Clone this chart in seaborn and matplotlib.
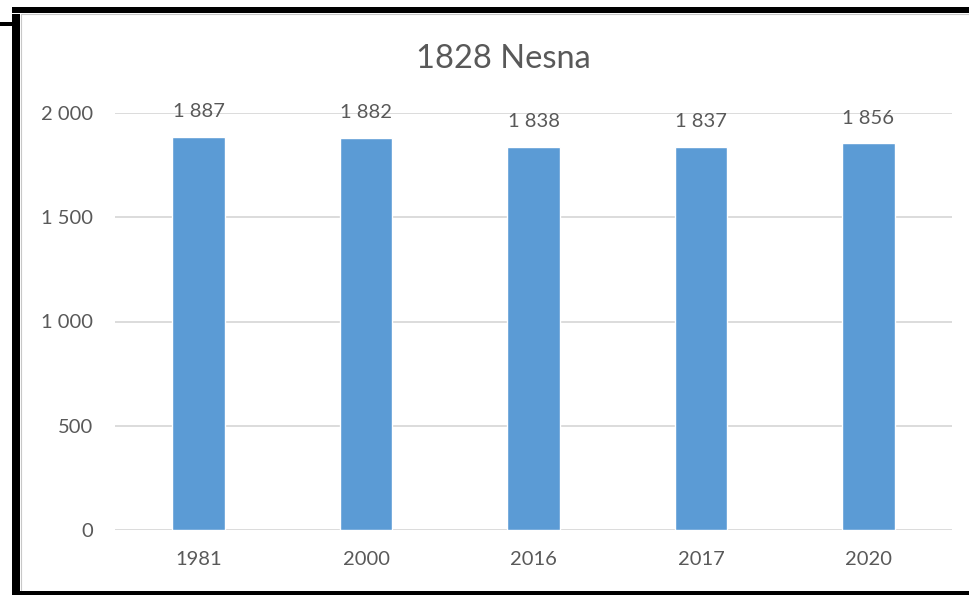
import matplotlib.pyplot as plt
import pandas as pd
import seaborn as sns
from matplotlib.lines import Line2D

years = ["1981", "2000", "2016", "2017", "2020"]
population = [1887, 1882, 1838, 1837, 1856]
y_ticks = [0, 500, 1000, 1500, 2000]

BAR = "#5b9bd5"
TXT = "#595959"
GRID = "#d9d9d9"


def _fmt(v):
    # thousands separator as a space, like the original
    return f"{v:,}".replace(",", " ")


def main():
    sns.set_theme(style="white")
    plt.rcParams["font.family"] = ["Lato", "DejaVu Sans"]

    df = pd.DataFrame({"year": years, "pop": population})

    fig = plt.figure(figsize=(9.7, 5.95), dpi=100)
    ax = fig.add_axes([115 / 970, 1 - 530 / 595, 837 / 970, 417 / 595])

    sns.barplot(data=df, x="year", y="pop", color=BAR, width=0.315,
                saturation=1, ax=ax)

    ax.set_ylim(0, 2000)
    ax.set_xlim(-0.5, 4.5)
    ax.set_yticks(y_ticks)
    ax.set_yticklabels([_fmt(t) for t in y_ticks])
    ax.yaxis.grid(True, color=GRID, linewidth=1.3)
    ax.set_axisbelow(True)
    for s in ax.spines.values():
        s.set_visible(False)
    ax.tick_params(axis="both", length=0, labelsize=14.5, colors=TXT)
    ax.tick_params(axis="y", pad=16)
    ax.tick_params(axis="x", pad=15)
    ax.set_xlabel("")
    ax.set_ylabel("")

    for i, v in enumerate(population):
        ax.annotate(_fmt(v), (i, v), xytext=(0, 18), textcoords="offset points",
                    ha="center", va="center", fontsize=14.5, color=TXT,
                    annotation_clip=False)

    fig.text(503 / 970, 1 - 59 / 595, "1828 Nesna", ha="center",
             va="center", fontsize=23.5, color=TXT)

    # black frame pieces around the screenshot
    H, W = 595, 970
    frame = [
        ((16, 16), (14, 595), 8),
        ((12, 970), (10, 10), 6),
        ((0, 16), (24, 24), 4),
        ((12, 970), (593, 593), 4),
    ]
    for xs, ys, lw in frame:
        fig.add_artist(Line2D([x / W for x in xs], [1 - y / H for y in ys],
                              color="black", linewidth=lw * 0.72,
                              solid_capstyle="butt"))
    fig.add_artist(Line2D([21 / W, 21 / W], [1 - 14 / H, 1 - 590 / H],
                          color="#c8c8c8", linewidth=0.8))
    fig.add_artist(Line2D([21 / W, 1], [1 - 14 / H, 1 - 14 / H],
                          color="#c8c8c8", linewidth=0.8))

    fig.savefig("out.png", dpi=100)


if __name__ == "__main__":
    main()
